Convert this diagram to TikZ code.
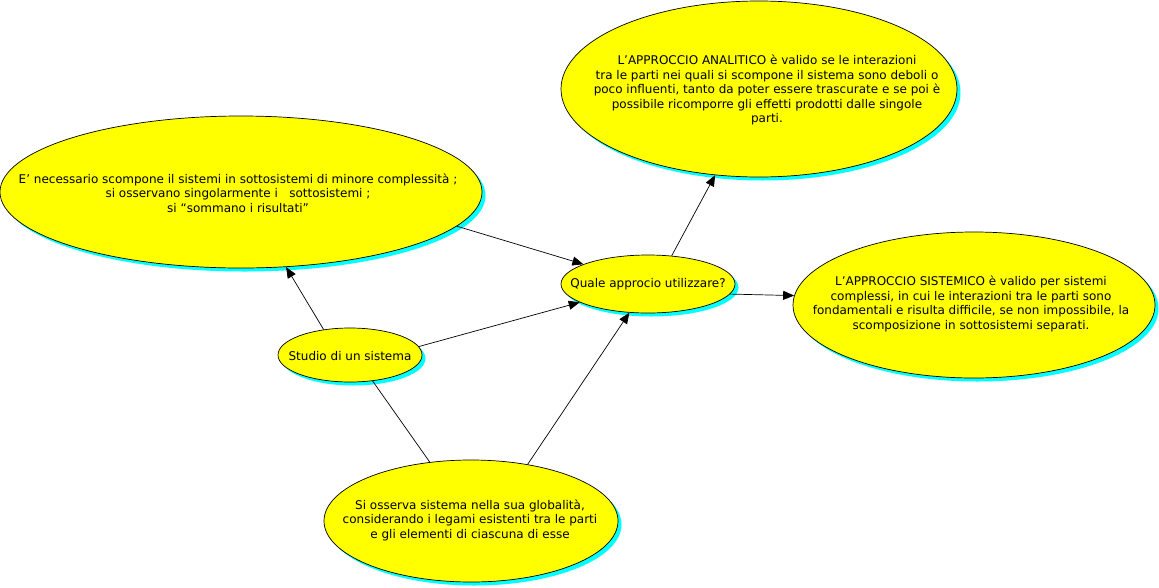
\documentclass[tikz,border=0pt]{standalone}
\usepackage{fontspec}
\setmainfont{DejaVu Sans}
\usetikzlibrary{shapes.geometric,arrows.meta,shadows}
\definecolor{ylw}{RGB}{255,255,0}
\definecolor{shcyan}{RGB}{0,255,255}
\begin{document}
\begin{tikzpicture}[x=1pt,y=1pt,
  ell/.style={ellipse, draw=black, line width=0.7pt, fill=ylw, inner sep=0pt,
    drop shadow={shadow xshift=3.5pt, shadow yshift=-3.5pt, fill=shcyan, opacity=1}},
  txt/.style={align=center, inner sep=0pt, font=\fontsize{12}{14.5}\selectfont},
  arr/.style={-{Triangle[length=11pt,width=9pt]}, line width=0.7pt},
  link/.style={line width=0.7pt}]
\useasboundingbox[fill=white] (0,0) rectangle (1159,-587);
% concept ellipses
\node[ell, minimum width=482pt, minimum height=152pt] (big) at (241,-192) {};
\node[ell, minimum width=396pt, minimum height=176pt] (top) at (759,-89) {};
\node[ell, minimum width=362pt, minimum height=146pt] (right) at (974,-305) {};
\node[ell, minimum width=174pt, minimum height=58pt] (quale) at (648,-284) {};
\node[ell, minimum width=144pt, minimum height=54pt] (studio) at (350,-355) {};
\node[ell, minimum width=294pt, minimum height=122pt] (bottom) at (471,-521) {};
% connectors
\draw[arr] (studio.136) -- (big.-59);
\draw[arr] (big.-9) -- (quale.163);
\draw[arr] (studio.7) -- (quale.195);
\draw[arr] (bottom.45) -- (quale.237);
\draw[link] (studio.-49) -- (bottom.125);
\draw[arr] (quale.50) -- (top.243);
\draw[arr] (quale.-7) -- (right.177);
% texts
\node[txt] (bigt) at (238,-193) {E' necessario scompone il sistemi in sottosistemi di minore complessità ;\\si osservano singolarmente i\ \ \ sottosistemi ;\\si “sommano i risultati”};
\node[txt] (topt) at (767,-90) {L’APPROCCIO ANALITICO è valido se le interazioni\\tra le parti nei quali si scompone il sistema sono deboli o\\poco influenti, tanto da poter essere trascurate e se poi è\\possibile ricomporre gli effetti prodotti dalle singole\\parti.};
\node[txt] (rightt) at (971,-304) {L’APPROCCIO SISTEMICO è valido per sistemi\\complessi, in cui le interazioni tra le parti sono\\fondamentali e risulta difficile, se non impossibile, la\\scomposizione in sottosistemi separati.};
\node[txt] (qualet) at (648,-284) {Quale approcio utilizzare?};
\node[txt] (studiot) at (350,-356) {Studio di un sistema};
\node[txt] (bottomt) at (470,-520) {Si osserva sistema nella sua globalità,\\considerando i legami esistenti tra le parti\\e gli elementi di ciascuna di esse};
\end{tikzpicture}
\end{document}
